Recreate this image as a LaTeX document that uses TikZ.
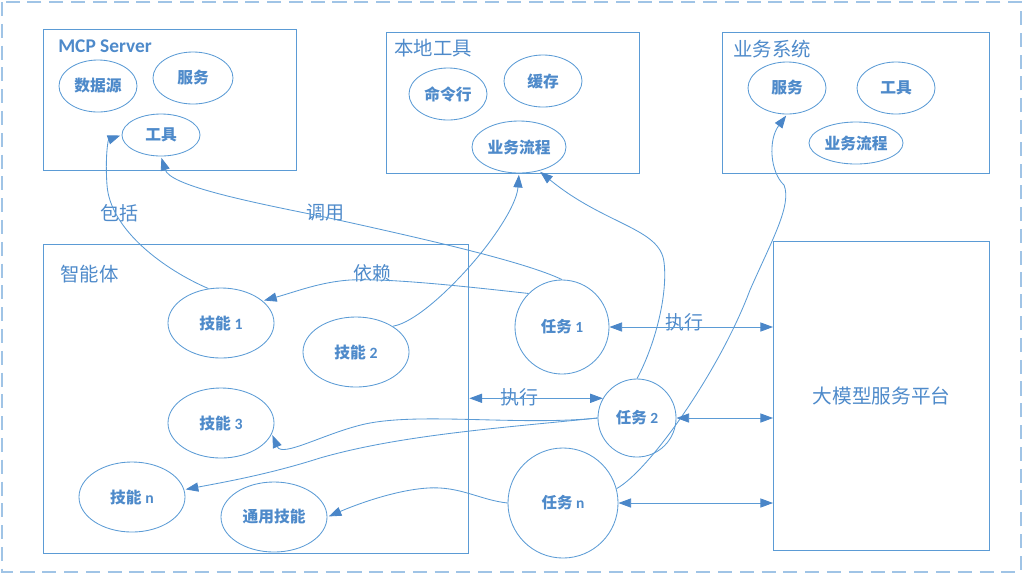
\documentclass[tikz,border=0pt]{standalone}
\usepackage{fontspec}
\setmainfont{Noto Sans CJK SC}
\newfontfamily\latinfont{Carlito}
\usetikzlibrary{arrows.meta,shapes.geometric}

\definecolor{lineblue}{RGB}{91,155,213}
\definecolor{textblue}{RGB}{78,138,202}
\definecolor{tipblue}{RGB}{74,134,200}
\definecolor{frameblue}{RGB}{160,196,230}

\begin{document}
\begin{tikzpicture}[x=0.025cm, y=-0.025cm,
    box/.style={draw=lineblue, line width=0.9pt, anchor=north west, inner sep=0pt},
    part/.style={ellipse, draw=lineblue, line width=0.6pt, inner sep=0pt,
        minimum width=1.95cm, minimum height=1.3cm, text=textblue,
        font=\fontsize{11.2}{13}\selectfont\bfseries},
    skill/.style={part, minimum width=2.65cm, minimum height=1.75cm},
    task/.style={circle, draw=lineblue, line width=0.6pt, inner sep=0pt, text=textblue,
        font=\fontsize{11}{13}\selectfont\bfseries},
    title/.style={anchor=west, inner sep=0pt, text=textblue, font=\fontsize{13.8}{16}\selectfont},
    lbl/.style={inner sep=0pt, text=textblue, font=\fontsize{13.5}{16}\selectfont},
    arr/.style={draw=lineblue, line width=0.6pt, shorten >=1pt,
        -{Triangle[length=9pt, width=6.5pt, color=tipblue]}},
    biarr/.style={draw=lineblue, line width=0.6pt,
        {Triangle[length=9pt, width=6.5pt, color=tipblue]}-{Triangle[length=9pt, width=6.5pt, color=tipblue]}}
]
    \useasboundingbox (0,0) rectangle (1024,575);

    % Outer frame (dashed)
    \draw[frameblue, line width=1pt, dash pattern=on 10pt off 5.5pt] (2,2) rectangle (1021,572);

    % MCP Server
    \node[box, minimum width=6.325cm, minimum height=3.525cm] (mcp) at (43,29) {};
    \node[title] (mcptitle) at (58,46) {\latinfont\bfseries MCP Server};
    \node[part] (mcpdata) at (98,86) {数据源};
    \node[part, minimum width=2cm] (mcpserv) at (193,78) {服务};
    \node[part, minimum height=1.05cm] (mcptool) at (161,135) {工具};

    % Local tools
    \node[box, minimum width=6.325cm, minimum height=3.525cm] (local) at (386,32) {};
    \node[title] (localtitle) at (394,48) {本地工具};
    \node[part] (lcmd) at (448,94) {命令行};
    \node[part] (lcache) at (543,81) {缓存};
    \node[part, minimum width=2.35cm] (lproc) at (519,147) {业务流程};

    % Business system
    \node[box, minimum width=6.675cm, minimum height=3.525cm] (biz) at (722,32) {};
    \node[title] (biztitle) at (733,49) {业务系统};
    \node[part] (bserv) at (787,88) {服务};
    \node[part] (btool) at (896,88) {工具};
    \node[part, minimum width=2.35cm, minimum height=1.05cm] (bproc) at (856,143) {业务流程};

    % Agent and its skills
    \node[box, minimum width=10.625cm, minimum height=7.725cm] (agent) at (43,244) {};
    \node[title] (agenttitle) at (60,274) {智能体};
    \node[skill] (skillone) at (221,323) {技能 {\latinfont\bfseries 1}};
    \node[skill] (skilltwo) at (356,352) {技能 {\latinfont\bfseries 2}};
    \node[skill] (skillthree) at (221,423) {技能 {\latinfont\bfseries 3}};
    \node[skill] (skilln) at (132,497) {技能 {\latinfont\bfseries n}};
    \node[skill] (common) at (274,517) {通用技能};

    % Tasks
    \node[task, minimum size=2.35cm] (taskone) at (562,327) {任务 {\latinfont\bfseries 1}};
    \node[task, minimum size=1.95cm] (tasktwo) at (637,418) {任务 {\latinfont\bfseries 2}};
    \node[task, minimum size=2.75cm] (taskn) at (563,503) {任务 {\latinfont\bfseries n}};

    % Model service platform
    \node[box, minimum width=5.4cm, minimum height=7.725cm, text=textblue,
        font=\fontsize{14}{16}\selectfont] (platform) at (773,241) {大模型服务平台};

    % Labels
    \node[lbl] (include) at (119,213) {包括};
    \node[lbl] (call) at (325,213) {调用};
    \node[lbl] (depend) at (372,273) {依赖};
    \node[lbl] (execone) at (684,322) {执行};
    \node[lbl] (exectwo) at (519,397) {执行};

    % Curved links
    \draw[arr] (skillone.110) .. controls (165,270) and (110,230) .. (107,185)
        .. controls (105,158) and (108,140) .. (mcptool.west);
    \draw[arr] (taskone.north) .. controls (525,262) and (430,240) .. (320,216)
        .. controls (240,200) and (170,185) .. (mcptool.south);
    \draw[arr] (taskone.135) .. controls (470,287) and (390,278) .. (350,280)
        .. controls (320,282) and (295,292) .. (skillone.28);
    \draw[arr] (skilltwo.35) .. controls (418,322) and (460,280) .. (485,248)
        .. controls (505,222) and (517,200) .. (lproc.south);
    \draw[arr] (tasktwo.north) .. controls (655,345) and (668,295) .. (664,262)
        .. controls (660,228) and (605,225) .. (lproc.-50);
    \draw[arr] (taskn.15) .. controls (650,470) and (720,370) .. (750,290)
        .. controls (772,240) and (792,205) .. (784,185)
        .. controls (770,172) and (768,140) .. (bserv.south);
    \draw[arr] (tasktwo.west) .. controls (520,426) and (420,412) .. (365,424)
        .. controls (325,433) and (282,458) .. (skillthree.-12);
    \draw[arr] (tasktwo.west) .. controls (500,428) and (400,435) .. (320,458)
        .. controls (270,474) and (225,482) .. (skilln.8);
    \draw[arr] (taskn.west) .. controls (480,500) and (460,486) .. (428,488)
        .. controls (395,490) and (355,505) .. (common.east);

    % Execution links
    \draw[biarr] (taskone.east) -- (taskone.east -| platform.west);
    \draw[biarr] (agent.east |- tasktwo.150) -- (tasktwo.150);
    \draw[biarr] (tasktwo.east) -- (tasktwo.east -| platform.west);
    \draw[biarr] (taskn.east) -- (taskn.east -| platform.west);
\end{tikzpicture}
\end{document}
